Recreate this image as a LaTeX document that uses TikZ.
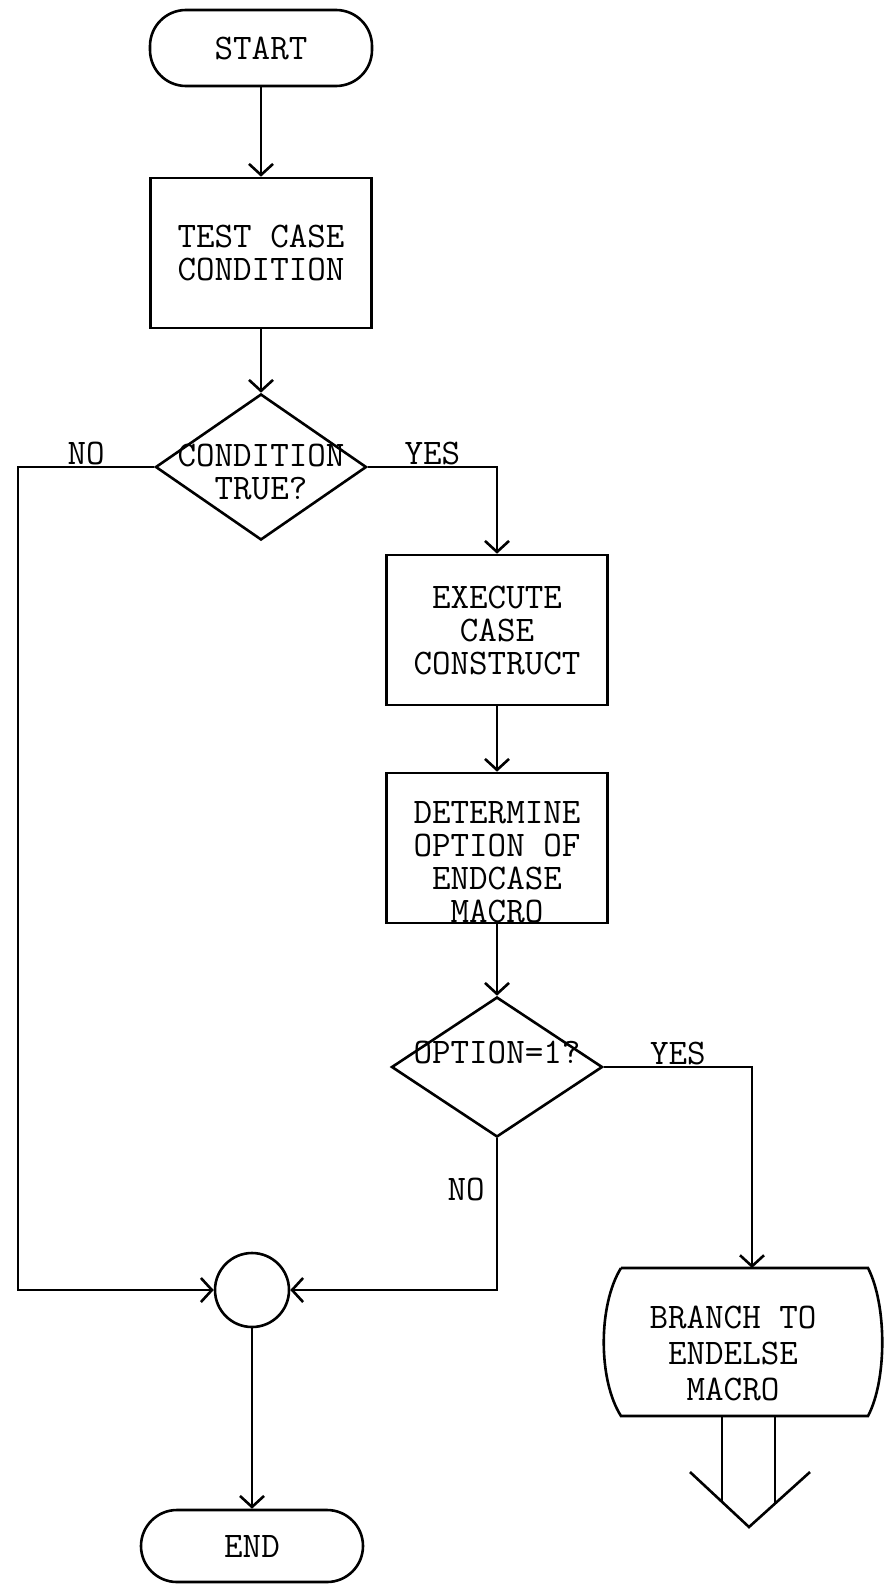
\documentclass[tikz,border=0pt]{standalone}
\usetikzlibrary{shapes.geometric,arrows.meta}
\begin{document}
\begin{tikzpicture}[x=1pt, y=-1pt, inner sep=1pt, line width=2.6pt,
    font=\ttfamily\fontsize{36}{33}\selectfont,
    >={Straight Barb[length=11pt,width=24pt]},
    term/.style={draw, rounded corners=36pt, minimum width=222pt, minimum height=76pt},
    proc/.style={draw, minimum width=221pt, minimum height=150pt, align=center},
    test/.style={draw, diamond, inner sep=0pt, minimum width=211pt, minimum height=146pt},
    every label/.style={align=center}]
  \useasboundingbox (0,0) rectangle (884,1584);
  % main column
  \node[term] (start) at (261,48) {START};
  \node[proc] (testcase) at (261,253) {TEST CASE\\CONDITION};
  \node[test, label={[yshift=-5pt]center:{CONDITION\\TRUE?}}] (cond) at (261,467) {};
  \node[proc] (exec) at (497,630) {EXECUTE\\CASE\\CONSTRUCT};
  \node[proc, label={[yshift=-14pt]center:{DETERMINE\\OPTION OF\\ENDCASE\\MACRO}}] (det) at (497,848) {};
  \node[test, minimum height=140pt, label={[yshift=15pt]center:{OPTION=1?}}] (opt) at (497,1067) {};
  \node[draw, circle, minimum size=74pt] (join) at (252,1290) {};
  \node[term, minimum height=72pt] (end) at (252,1546) {END};
  % branch box
  \draw (621,1268) -- (868,1268) .. controls (887,1305) and (887,1380) .. (868,1416)
    -- (621,1416) .. controls (598,1380) and (598,1305) .. (621,1268);
  \node[align=center, font=\ttfamily\fontsize{36}{36}\selectfont] (branch) at (733,1353) {BRANCH TO\\ENDELSE\\MACRO};
  \coordinate (brtop) at (752,1268);
  \draw (722,1416) -- (722,1502);
  \draw (775,1416) -- (775,1504);
  \draw (690,1472) -- (749,1527) -- (810,1472);
  % connectors
  \draw[->] (start) -- (testcase);
  \draw[->] (testcase) -- (cond);
  \draw[->] (cond.west) -- node[above] {NO} (18,467) -- (18,1290) -- (join.west);
  \draw[->] (cond.east) -- node[above] {YES} (cond.east -| exec.north) -- (exec.north);
  \draw[->] (exec) -- (det);
  \draw[->] (det) -- (opt);
  \draw[->] (opt.east) -- node[above] {YES} (opt.east -| brtop) -- (brtop);
  \draw[->] (opt.south) -- node[pos=.34, left=10pt] {NO} (opt.south |- join.east) -- (join.east);
  \draw[->] (join) -- (end);
\end{tikzpicture}
\end{document}
